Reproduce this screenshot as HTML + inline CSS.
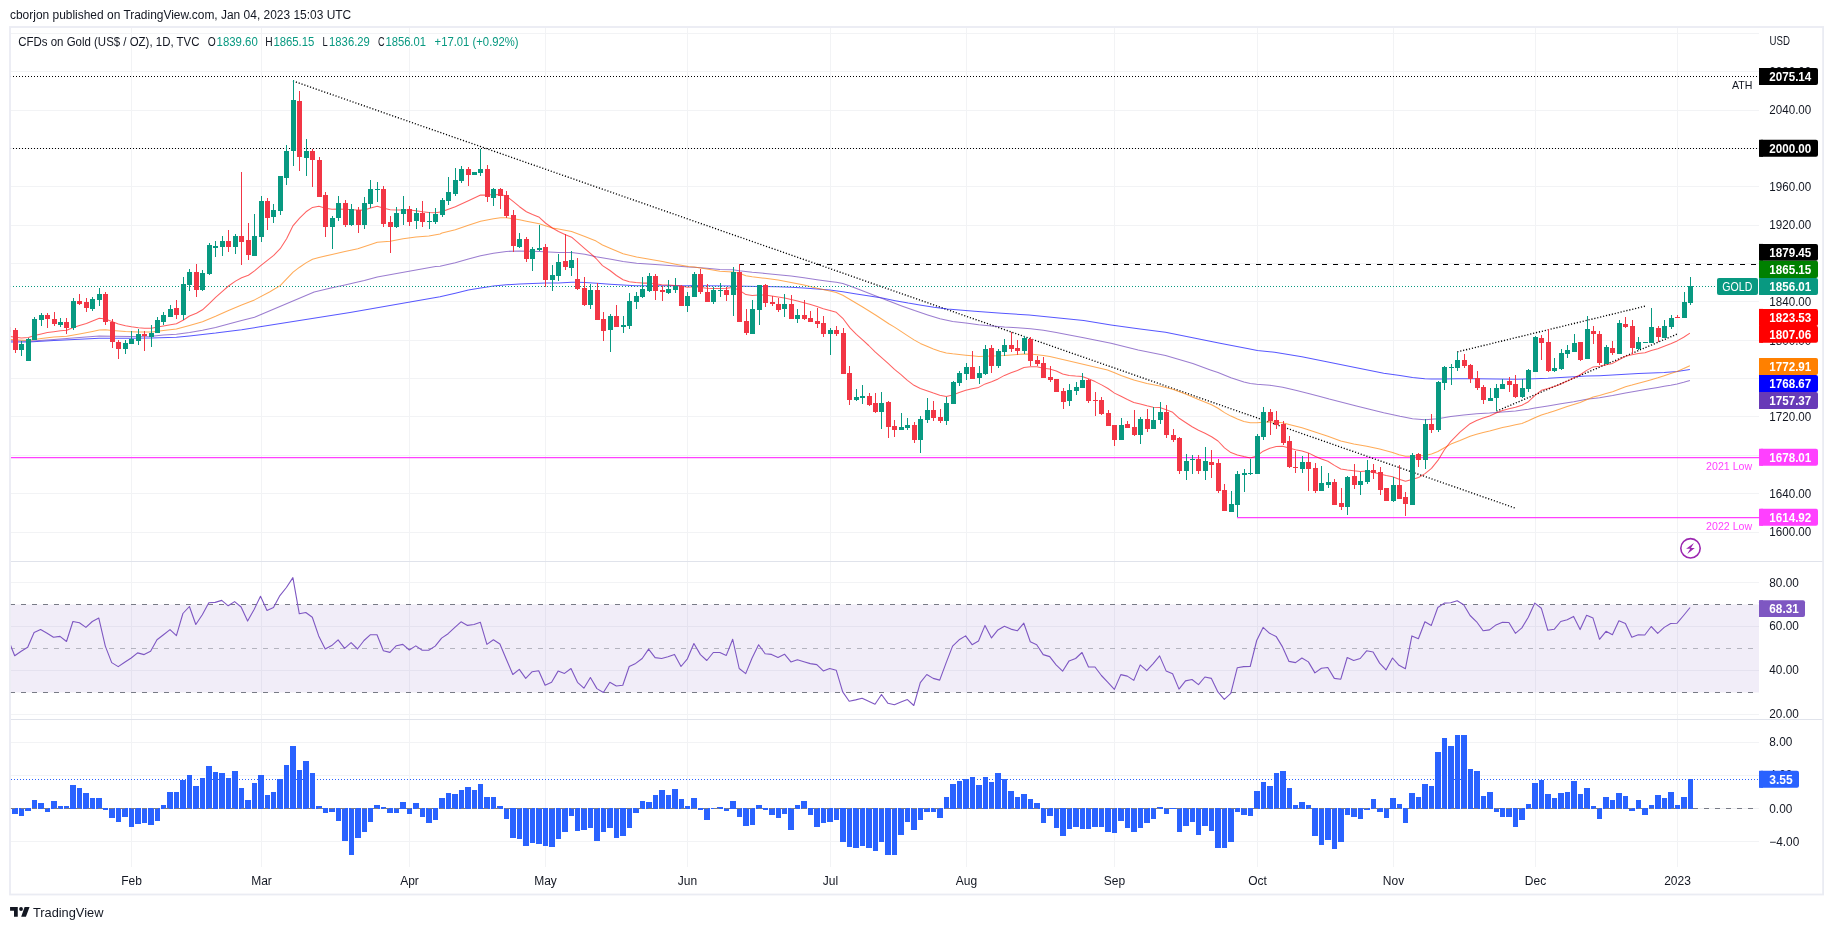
<!DOCTYPE html><html><head><meta charset="utf-8"><title>chart</title><style>html,body{margin:0;padding:0;background:#fff;}body{width:1833px;height:930px;overflow:hidden;position:relative;font-family:"Liberation Sans", sans-serif;}svg{position:absolute;left:0;top:0;display:block;will-change:transform}text{font-family:"Liberation Sans", sans-serif;}</style></head><body>
<svg width="1833" height="930" viewBox="0 0 1833 930">
<rect x="0" y="0" width="1833" height="930" fill="#ffffff"/>
<g shape-rendering="crispEdges">
<rect x="131" y="28" width="1" height="839" fill="#f2f3f5"/>
<rect x="261" y="28" width="1" height="839" fill="#f2f3f5"/>
<rect x="409" y="28" width="1" height="839" fill="#f2f3f5"/>
<rect x="545" y="28" width="1" height="839" fill="#f2f3f5"/>
<rect x="687" y="28" width="1" height="839" fill="#f2f3f5"/>
<rect x="830" y="28" width="1" height="839" fill="#f2f3f5"/>
<rect x="966" y="28" width="1" height="839" fill="#f2f3f5"/>
<rect x="1114" y="28" width="1" height="839" fill="#f2f3f5"/>
<rect x="1257" y="28" width="1" height="839" fill="#f2f3f5"/>
<rect x="1393" y="28" width="1" height="839" fill="#f2f3f5"/>
<rect x="1535" y="28" width="1" height="839" fill="#f2f3f5"/>
<rect x="1677" y="28" width="1" height="839" fill="#f2f3f5"/>
<rect x="11" y="532" width="1748" height="1" fill="#f2f3f5"/>
<rect x="11" y="493" width="1748" height="1" fill="#f2f3f5"/>
<rect x="11" y="455" width="1748" height="1" fill="#f2f3f5"/>
<rect x="11" y="416" width="1748" height="1" fill="#f2f3f5"/>
<rect x="11" y="378" width="1748" height="1" fill="#f2f3f5"/>
<rect x="11" y="340" width="1748" height="1" fill="#f2f3f5"/>
<rect x="11" y="301" width="1748" height="1" fill="#f2f3f5"/>
<rect x="11" y="263" width="1748" height="1" fill="#f2f3f5"/>
<rect x="11" y="225" width="1748" height="1" fill="#f2f3f5"/>
<rect x="11" y="186" width="1748" height="1" fill="#f2f3f5"/>
<rect x="11" y="148" width="1748" height="1" fill="#f2f3f5"/>
<rect x="11" y="110" width="1748" height="1" fill="#f2f3f5"/>
<rect x="11" y="71" width="1748" height="1" fill="#f2f3f5"/>
<rect x="11" y="33" width="1748" height="1" fill="#f2f3f5"/>
<rect x="11" y="582" width="1748" height="1" fill="#f2f3f5"/>
<rect x="11" y="626" width="1748" height="1" fill="#f2f3f5"/>
<rect x="11" y="670" width="1748" height="1" fill="#f2f3f5"/>
<rect x="11" y="714" width="1748" height="1" fill="#f2f3f5"/>
<rect x="11" y="742" width="1748" height="1" fill="#f2f3f5"/>
<rect x="11" y="775" width="1748" height="1" fill="#f2f3f5"/>
<rect x="11" y="808" width="1748" height="1" fill="#f2f3f5"/>
<rect x="11" y="841" width="1748" height="1" fill="#f2f3f5"/>
</g>
<rect x="11" y="604.5" width="1748" height="88" fill="#7e57c2" fill-opacity="0.11"/>
<g fill="none" stroke-width="1">
<line x1="10" x2="1759" y1="604.5" y2="604.5" stroke="#787b86" stroke-dasharray="5,6"/>
<line x1="10" x2="1759" y1="692.5" y2="692.5" stroke="#787b86" stroke-dasharray="5,6"/>
<line x1="10" x2="1759" y1="648.5" y2="648.5" stroke="#787b86" stroke-opacity="0.5" stroke-dasharray="5,6"/>
</g>
<polyline fill="none" stroke="#7e57c2" stroke-width="1.1" stroke-linejoin="round" points="10.5,645.2 14.7,655.8 21.2,651.2 27.7,647.3 34.1,632.5 40.6,629.6 47.1,633.3 53.5,637.3 60.0,636.4 66.5,641.5 72.9,621.5 79.4,622.8 85.9,627.4 92.3,621.5 98.8,618.1 105.3,646.1 111.7,662.6 118.2,666.6 124.7,662.2 131.2,658.0 137.6,652.9 144.1,654.6 150.6,651.2 157.0,639.8 163.5,634.7 170.0,629.6 176.4,635.6 182.9,613.5 189.4,606.5 195.8,624.5 202.3,614.7 208.8,602.8 215.2,602.4 221.7,600.4 228.2,605.8 234.6,601.6 241.1,607.0 247.6,621.1 254.1,609.6 260.5,596.3 267.0,610.4 273.5,607.5 279.9,595.6 286.4,587.5 292.9,577.6 299.3,613.8 305.8,612.5 312.3,617.2 318.7,635.9 325.2,649.0 331.7,645.6 338.1,639.8 344.6,648.3 351.1,642.7 357.5,649.0 364.0,640.5 370.5,634.7 377.0,634.7 383.4,650.8 389.9,652.4 396.4,645.7 402.8,644.4 409.3,650.0 415.8,645.9 422.2,650.3 428.7,650.3 435.2,646.1 441.6,638.1 448.1,633.7 454.6,627.7 461.0,621.8 467.5,625.4 474.0,624.5 480.4,622.3 486.9,644.4 493.4,639.8 499.9,644.0 506.3,659.2 512.8,674.5 519.3,669.4 525.7,678.4 532.2,671.7 538.7,670.7 545.1,685.2 551.6,682.3 558.1,671.1 564.5,673.4 571.0,668.5 577.5,682.3 583.9,688.2 590.4,677.5 596.9,688.6 603.4,692.5 609.8,682.3 616.3,686.0 622.8,685.2 629.2,666.5 635.7,663.4 642.2,658.5 648.6,649.1 655.1,657.6 661.6,658.5 668.0,656.8 674.5,654.4 681.0,666.5 687.4,658.8 693.9,643.5 700.4,654.6 706.8,660.5 713.3,652.5 719.8,652.5 726.3,655.4 732.7,639.3 739.2,668.5 745.7,673.6 752.1,658.0 758.6,644.7 765.1,653.7 771.5,654.4 778.0,657.5 784.5,654.2 790.9,661.9 797.4,659.7 803.9,661.7 810.3,663.6 816.8,664.6 823.3,670.9 829.7,668.5 836.2,670.2 842.7,691.9 849.2,701.3 855.6,699.9 862.1,698.2 868.6,701.3 875.0,704.2 881.5,694.5 888.0,703.3 894.4,704.7 900.9,702.1 907.4,699.6 913.8,705.5 920.3,682.6 926.8,674.5 933.2,678.4 939.7,680.1 946.2,662.6 952.6,646.1 959.1,639.8 965.6,635.9 972.1,644.7 978.5,641.0 985.0,625.4 991.5,637.9 997.9,629.9 1004.4,626.2 1010.9,629.1 1017.3,630.8 1023.8,623.2 1030.3,641.8 1036.7,644.7 1043.2,654.6 1049.7,656.6 1056.1,664.8 1062.6,671.2 1069.1,660.9 1075.6,658.5 1082.0,652.5 1088.5,667.0 1095.0,667.0 1101.4,675.5 1107.9,682.3 1114.4,689.4 1120.8,674.6 1127.3,676.1 1133.8,680.4 1140.2,664.9 1146.7,670.7 1153.2,663.6 1159.6,655.9 1166.1,670.9 1172.6,673.8 1179.0,689.1 1185.5,680.9 1192.0,679.5 1198.5,684.6 1204.9,677.0 1211.4,678.4 1217.9,691.9 1224.3,699.3 1230.8,693.3 1237.3,667.7 1243.7,666.6 1250.2,666.5 1256.7,640.5 1263.1,627.4 1269.6,633.3 1276.1,636.4 1282.5,646.9 1289.0,661.4 1295.5,662.6 1301.9,658.0 1308.4,661.9 1314.9,672.9 1321.4,668.3 1327.8,667.5 1334.3,678.4 1340.8,679.2 1347.2,657.5 1353.7,660.5 1360.2,658.5 1366.6,650.8 1373.1,652.0 1379.6,663.1 1386.0,669.9 1392.5,658.0 1399.0,665.3 1405.4,668.7 1411.9,635.9 1418.4,638.8 1424.9,621.8 1431.3,625.4 1437.8,607.5 1444.3,603.1 1450.7,602.8 1457.2,600.7 1463.7,604.8 1470.1,615.5 1476.6,621.8 1483.1,630.8 1489.5,629.9 1496.0,624.9 1502.5,622.3 1508.9,622.5 1515.4,633.3 1521.9,627.9 1528.3,617.2 1534.8,603.1 1541.3,608.2 1547.8,630.3 1554.2,629.3 1560.7,621.5 1567.2,619.8 1573.6,616.4 1580.1,629.6 1586.6,615.2 1593.0,618.1 1599.5,639.3 1606.0,631.3 1612.4,634.7 1618.9,620.8 1625.4,623.5 1631.8,637.3 1638.3,634.7 1644.8,635.0 1651.2,626.5 1657.7,633.3 1664.2,627.4 1670.7,623.5 1677.1,623.2 1683.6,615.5 1690.1,607.5"/>
<g fill="none">
<line x1="10" x2="1759" y1="76.5" y2="76.5" stroke="#000" stroke-width="1" stroke-dasharray="1,2"/>
<line x1="10" x2="1759" y1="148.5" y2="148.5" stroke="#000" stroke-width="1" stroke-dasharray="1,2"/>
<line x1="11" x2="1759" y1="457.5" y2="457.5" stroke="#ff40ff" stroke-width="1.25"/>
<line x1="1237" x2="1759" y1="517.5" y2="517.5" stroke="#ff40ff" stroke-width="1.25"/>
<line x1="739" x2="1759" y1="264.5" y2="264.5" stroke="#000" stroke-width="1.15" stroke-dasharray="5,6"/>
<line x1="293" y1="81" x2="1515" y2="508" stroke="#000" stroke-width="1.35" stroke-dasharray="1.15,1.85"/>
<line x1="1457.3" y1="351.9" x2="1645" y2="306.2" stroke="#000" stroke-width="1.35" stroke-dasharray="1.15,1.85"/>
<line x1="1496.5" y1="411.2" x2="1677" y2="334.1" stroke="#000" stroke-width="1.35" stroke-dasharray="1.15,1.85"/>
</g>
<polyline fill="none" stroke="#0000ff" stroke-opacity="0.66" stroke-width="1.05" stroke-linejoin="round" points="10.2,341.9 28.4,341.9 53.9,340.5 79.5,339.3 99.3,338.2 131.4,338.2 151.6,337.9 176.4,337.3 189.5,335.9 215.6,333.1 241.6,329.7 260.0,326.8 350.0,312.5 440.0,296.8 455.3,293.2 468.4,290.1 480.6,288.0 493.5,286.1 506.4,284.8 519.5,284.0 532.5,283.4 545.4,283.1 558.5,282.9 571.6,282.3 577.7,282.3 584.8,282.6 597.0,283.3 610.0,284.3 623.1,285.1 635.9,285.7 648.8,285.8 661.7,285.8 674.6,285.8 687.7,285.8 694.1,285.6 707.0,285.8 732.8,286.1 758.8,286.5 778.1,286.8 791.1,287.2 804.0,287.9 817.0,288.9 829.9,290.0 842.8,291.7 856.4,293.9 869.5,296.0 882.2,298.1 895.2,300.7 908.2,303.1 921.3,305.2 934.0,307.3 947.3,309.1 974.6,311.3 1001.8,313.2 1029.1,315.1 1056.4,317.8 1083.7,320.6 1111.0,324.9 1138.2,328.7 1165.5,332.3 1192.8,337.7 1220.0,343.2 1247.3,348.6 1257.4,350.6 1274.6,352.2 1301.9,356.8 1329.2,362.3 1356.4,367.7 1383.7,373.2 1400.0,375.4 1412.5,377.5 1424.8,378.7 1431.4,379.0 1444.3,379.0 1457.2,378.7 1476.6,378.7 1496.1,379.0 1515.5,379.2 1528.4,379.0 1534.8,378.7 1547.9,378.3 1560.8,377.5 1573.7,376.8 1586.6,376.1 1599.5,375.7 1612.6,375.1 1625.5,374.3 1638.4,373.6 1651.3,372.9 1664.2,372.4 1677.1,371.4 1689.9,369.6"/>
<polyline fill="none" stroke="#673ab7" stroke-opacity="0.66" stroke-width="1.05" stroke-linejoin="round" points="10.2,340.7 28.4,341.3 53.9,339.6 79.5,337.6 99.3,335.9 112.4,336.2 131.4,336.5 151.6,336.2 163.5,335.1 176.4,334.2 189.5,332.5 202.5,330.2 215.6,327.4 228.5,324.0 241.6,320.6 254.5,317.2 314.2,292.0 332.0,287.7 344.9,284.9 364.3,280.6 377.3,277.1 396.6,273.5 416.0,270.1 435.5,266.4 440.0,266.3 455.3,262.8 468.4,258.9 480.6,255.7 493.5,253.3 506.4,251.4 519.5,251.1 539.3,251.4 558.5,252.4 571.6,252.5 584.8,254.2 596.1,256.7 612.4,259.5 623.1,261.5 636.6,263.2 662.5,264.9 688.4,267.0 694.1,267.2 707.0,268.3 719.9,269.5 732.8,269.7 739.3,270.7 752.2,272.3 765.2,273.4 778.1,274.7 791.1,276.1 804.0,277.8 817.0,279.7 829.9,281.4 836.3,282.2 842.8,283.6 850.0,286.1 863.1,291.0 875.9,296.0 888.8,301.0 901.7,305.9 914.6,310.6 927.7,314.9 940.0,318.7 952.7,321.4 965.8,323.1 978.7,324.7 991.6,326.0 1004.5,327.1 1017.4,327.8 1030.5,328.8 1043.4,330.2 1056.3,332.5 1069.2,334.9 1083.7,337.7 1111.0,343.2 1138.2,350.0 1165.5,355.5 1192.8,363.6 1210.4,370.0 1218.0,372.6 1230.9,377.8 1243.9,382.1 1250.3,383.5 1256.8,384.2 1269.8,385.3 1282.7,387.3 1295.6,390.3 1308.5,393.4 1320.0,396.5 1329.2,399.1 1356.4,405.9 1383.7,412.7 1400.0,416.3 1412.5,418.7 1424.8,419.7 1437.8,418.7 1450.8,416.6 1463.7,414.9 1476.6,413.7 1489.6,413.0 1502.5,412.0 1515.5,410.9 1528.4,409.2 1534.8,408.1 1547.9,405.9 1560.8,403.8 1573.7,401.7 1586.6,399.3 1599.5,397.7 1612.6,395.6 1625.5,392.9 1638.4,390.7 1651.3,388.5 1657.8,387.4 1664.2,386.3 1670.7,385.2 1677.1,383.9 1683.7,382.3 1689.9,380.6"/>
<polyline fill="none" stroke="#ff8000" stroke-opacity="0.66" stroke-width="1.05" stroke-linejoin="round" points="10.2,339.6 28.4,340.5 41.2,338.5 53.9,337.1 66.7,336.2 79.5,333.9 92.5,331.4 99.3,330.0 105.4,329.7 112.4,330.5 125.5,331.4 138.4,331.9 151.6,331.9 163.5,330.5 176.4,329.1 189.5,325.4 202.5,321.7 215.6,316.3 228.5,310.4 241.6,305.0 254.5,299.9 269.5,292.0 280.2,285.6 293.1,272.1 299.6,267.2 306.0,262.9 312.5,259.3 318.9,257.4 332.0,254.4 344.9,251.5 357.8,248.7 370.7,244.4 377.3,242.3 390.2,241.2 403.1,238.8 416.0,237.1 428.9,235.9 440.0,234.0 442.0,233.1 455.3,229.7 468.4,225.2 480.6,221.2 493.5,218.8 500.5,217.8 506.4,217.8 513.4,218.8 519.5,219.8 526.4,221.2 539.3,223.7 545.4,225.7 552.4,228.0 558.5,229.1 571.6,231.5 584.8,236.5 596.1,241.1 602.5,245.0 612.4,249.3 623.1,253.8 636.6,257.1 649.6,259.2 662.5,261.6 675.5,264.2 688.4,266.6 694.1,266.9 707.0,269.0 719.9,271.2 732.8,271.9 739.3,273.3 745.9,275.7 752.2,276.8 765.2,278.3 778.1,280.0 791.1,282.5 804.0,285.1 817.0,288.2 829.9,291.0 836.3,292.4 842.8,295.3 850.0,299.5 863.1,307.3 875.9,315.2 888.8,323.7 894.5,327.1 901.0,331.4 907.4,335.6 914.0,339.9 920.3,343.4 926.9,346.3 933.4,349.1 939.8,351.2 946.3,352.9 952.7,353.8 959.2,354.5 965.8,355.2 972.1,355.8 978.7,356.5 985.2,356.2 991.6,355.9 998.1,355.8 1004.5,355.5 1011.0,354.9 1017.4,354.5 1023.9,354.1 1030.5,354.1 1036.9,354.8 1043.4,355.5 1049.8,356.6 1056.3,358.0 1062.7,359.5 1069.2,360.9 1107.5,370.0 1114.5,372.8 1121.0,375.4 1133.8,379.9 1146.9,383.5 1159.8,385.9 1172.7,389.2 1185.6,394.1 1198.5,399.5 1211.6,404.8 1218.0,408.3 1224.5,412.6 1230.9,416.1 1237.4,419.0 1243.9,421.4 1250.3,422.8 1256.8,422.8 1263.2,422.2 1269.8,421.8 1276.2,422.2 1282.6,422.8 1289.1,424.5 1302.0,427.8 1315.0,432.1 1327.9,436.3 1340.8,441.0 1353.8,444.1 1366.8,446.3 1379.7,449.1 1392.6,452.6 1399.1,454.8 1405.5,456.2 1412.0,456.2 1418.6,455.8 1425.0,455.5 1431.5,454.1 1437.9,451.5 1444.4,447.7 1450.9,444.1 1460.0,440.6 1470.1,436.2 1476.6,434.3 1483.2,432.5 1489.6,431.1 1496.1,429.3 1502.5,427.6 1509.0,426.2 1515.5,424.8 1521.9,423.4 1528.4,420.8 1534.8,417.7 1541.4,414.9 1547.9,413.0 1554.3,410.9 1560.8,408.8 1567.2,406.6 1573.7,404.5 1580.2,402.4 1586.6,399.8 1593.2,397.0 1599.5,395.6 1606.1,393.6 1612.6,391.7 1619.0,389.3 1625.5,386.8 1631.9,385.1 1638.4,383.2 1645.0,381.4 1651.3,379.7 1657.8,377.8 1664.2,375.7 1670.7,373.5 1677.1,371.4 1683.7,368.6 1689.9,365.7"/>
<polyline fill="none" stroke="#ff0000" stroke-opacity="0.62" stroke-width="1.05" stroke-linejoin="round" points="10.2,336.5 21.3,337.9 28.4,337.6 34.5,335.6 41.2,333.9 47.4,332.5 53.9,331.7 60.5,330.8 66.7,330.2 73.4,327.5 79.5,325.4 86.4,323.4 92.5,320.9 99.3,318.3 105.4,318.9 112.4,321.7 118.4,324.0 125.5,325.7 131.4,326.8 138.4,327.7 144.5,328.3 151.6,328.3 157.4,327.1 163.5,326.0 170.5,324.8 176.4,323.7 183.5,320.0 189.5,316.0 196.4,313.2 202.5,309.8 209.5,303.4 215.6,297.3 222.4,291.4 228.5,286.0 235.5,281.1 241.6,277.7 248.4,275.2 254.5,270.9 260.7,265.7 273.7,255.4 280.2,248.7 286.6,238.8 293.1,225.6 299.6,218.2 306.0,211.8 312.5,207.4 318.9,206.3 325.5,208.3 332.0,209.2 338.4,209.0 344.9,209.2 351.3,209.7 357.8,210.1 364.3,210.1 370.7,208.0 377.3,206.3 383.8,208.3 390.2,209.7 396.6,210.0 403.1,210.0 409.6,210.0 416.0,210.8 422.5,211.8 428.9,212.5 435.5,212.8 442.0,211.8 445.0,210.5 455.3,206.7 468.4,200.7 480.6,195.1 487.4,195.1 493.5,194.6 500.5,194.6 506.4,196.1 513.4,201.7 519.5,206.7 526.4,211.7 532.5,214.5 539.3,217.3 545.4,223.0 552.4,228.0 558.5,231.5 565.5,234.8 571.6,237.2 577.4,242.2 584.8,248.6 591.3,254.2 596.1,258.5 602.5,265.6 610.0,270.5 616.4,275.5 623.1,279.7 629.3,281.7 635.9,282.6 642.2,283.1 648.8,283.1 655.2,283.7 661.7,284.7 668.2,285.1 674.6,285.4 681.1,286.1 687.5,287.2 694.1,286.8 700.6,287.5 707.0,288.2 713.5,288.5 719.9,288.5 726.4,288.2 732.8,287.5 739.3,290.3 745.9,294.6 752.2,295.6 758.8,295.0 765.2,295.0 771.7,296.0 778.1,297.1 784.6,298.1 791.1,299.5 797.5,301.0 804.0,302.7 810.6,304.5 817.0,306.4 823.3,308.8 829.9,310.6 836.3,312.3 842.8,318.3 850.0,327.9 856.4,334.3 862.6,339.9 868.7,345.5 875.1,351.9 881.6,357.6 888.1,363.3 894.5,369.4 901.0,374.6 907.4,380.3 914.0,385.3 920.3,388.5 926.9,390.7 933.4,393.1 939.8,395.2 946.3,396.4 952.7,394.9 959.2,392.4 965.8,390.3 972.1,388.8 978.7,387.4 985.2,383.9 991.6,381.7 998.1,378.9 1004.5,375.4 1011.0,372.8 1017.4,370.4 1023.9,367.5 1030.5,366.8 1036.9,366.8 1043.4,368.3 1049.8,369.0 1056.3,371.1 1062.7,373.9 1069.2,375.5 1075.6,376.1 1082.1,376.4 1088.5,378.8 1095.1,381.6 1101.6,384.9 1108.0,388.5 1114.5,393.1 1121.0,396.3 1127.4,399.5 1133.8,402.4 1140.3,404.1 1146.9,405.8 1153.2,407.2 1159.8,407.6 1166.2,409.7 1172.7,412.3 1179.2,418.3 1185.6,422.5 1192.1,426.8 1198.5,430.3 1205.0,433.2 1211.6,436.7 1218.0,441.0 1224.5,447.8 1230.9,452.6 1237.4,454.9 1243.9,456.6 1250.3,458.0 1256.8,455.9 1263.2,451.2 1269.8,448.3 1276.2,446.6 1282.6,446.3 1289.1,448.1 1295.5,449.8 1302.0,450.9 1308.4,452.9 1315.0,456.2 1321.5,459.0 1327.9,461.2 1334.4,465.4 1340.8,469.0 1347.3,470.0 1353.8,470.8 1360.2,471.4 1366.8,471.1 1373.1,472.2 1379.7,473.9 1386.2,475.6 1392.6,476.8 1399.1,479.3 1405.5,481.3 1412.0,479.6 1418.6,477.5 1425.0,473.6 1431.5,468.3 1437.9,460.4 1444.4,449.8 1450.9,441.3 1460.0,432.1 1470.1,423.7 1476.6,420.5 1483.2,418.0 1489.6,415.9 1496.1,413.0 1502.5,410.6 1509.0,408.8 1515.5,407.3 1521.9,405.2 1528.4,401.7 1534.8,395.6 1541.4,390.3 1547.9,388.5 1554.3,386.5 1560.8,383.9 1567.2,381.1 1573.7,378.0 1580.2,374.7 1586.6,370.4 1593.2,366.9 1599.5,366.2 1606.1,364.8 1612.6,363.4 1619.0,359.8 1625.5,356.3 1631.9,354.8 1638.4,353.4 1645.0,352.7 1651.3,350.6 1657.8,348.7 1664.2,346.3 1670.7,343.7 1677.1,340.9 1683.7,337.3 1689.9,333.1"/>
<line x1="10" x2="1716" y1="286.5" y2="286.5" stroke="#089981" stroke-width="1" stroke-dasharray="1,2"/>
<g shape-rendering="crispEdges">
<rect x="10" y="327" width="1" height="5" fill="#f23645"/>
<rect x="15" y="328" width="1" height="25" fill="#f23645"/>
<rect x="13" y="330" width="5" height="20" fill="#f23645"/>
<rect x="21" y="341" width="1" height="15" fill="#089981"/>
<rect x="19" y="344" width="5" height="6" fill="#089981"/>
<rect x="28" y="338" width="1" height="23" fill="#089981"/>
<rect x="26" y="339" width="5" height="22" fill="#089981"/>
<rect x="34" y="317" width="1" height="23" fill="#089981"/>
<rect x="32" y="319" width="5" height="21" fill="#089981"/>
<rect x="41" y="313" width="1" height="13" fill="#089981"/>
<rect x="39" y="315" width="5" height="5" fill="#089981"/>
<rect x="47" y="313" width="1" height="15" fill="#f23645"/>
<rect x="45" y="315" width="5" height="4" fill="#f23645"/>
<rect x="54" y="312" width="1" height="14" fill="#f23645"/>
<rect x="52" y="319" width="5" height="5" fill="#f23645"/>
<rect x="60" y="318" width="1" height="9" fill="#089981"/>
<rect x="58" y="322" width="5" height="3" fill="#089981"/>
<rect x="66" y="318" width="1" height="16" fill="#f23645"/>
<rect x="64" y="322" width="5" height="6" fill="#f23645"/>
<rect x="73" y="298" width="1" height="32" fill="#089981"/>
<rect x="71" y="301" width="5" height="27" fill="#089981"/>
<rect x="79" y="294" width="1" height="11" fill="#f23645"/>
<rect x="77" y="301" width="5" height="3" fill="#f23645"/>
<rect x="86" y="298" width="1" height="14" fill="#f23645"/>
<rect x="84" y="302" width="5" height="6" fill="#f23645"/>
<rect x="92" y="297" width="1" height="14" fill="#089981"/>
<rect x="90" y="299" width="5" height="10" fill="#089981"/>
<rect x="99" y="288" width="1" height="18" fill="#089981"/>
<rect x="97" y="294" width="5" height="6" fill="#089981"/>
<rect x="105" y="292" width="1" height="33" fill="#f23645"/>
<rect x="103" y="294" width="5" height="28" fill="#f23645"/>
<rect x="112" y="319" width="1" height="29" fill="#f23645"/>
<rect x="110" y="322" width="5" height="20" fill="#f23645"/>
<rect x="118" y="340" width="1" height="19" fill="#f23645"/>
<rect x="116" y="342" width="5" height="7" fill="#f23645"/>
<rect x="125" y="340" width="1" height="14" fill="#089981"/>
<rect x="123" y="343" width="5" height="6" fill="#089981"/>
<rect x="131" y="331" width="1" height="13" fill="#089981"/>
<rect x="129" y="339" width="5" height="5" fill="#089981"/>
<rect x="138" y="329" width="1" height="16" fill="#089981"/>
<rect x="136" y="334" width="5" height="7" fill="#089981"/>
<rect x="144" y="331" width="1" height="20" fill="#f23645"/>
<rect x="142" y="334" width="5" height="2" fill="#f23645"/>
<rect x="151" y="325" width="1" height="22" fill="#089981"/>
<rect x="149" y="333" width="5" height="4" fill="#089981"/>
<rect x="157" y="317" width="1" height="16" fill="#089981"/>
<rect x="155" y="320" width="5" height="13" fill="#089981"/>
<rect x="163" y="312" width="1" height="13" fill="#089981"/>
<rect x="161" y="315" width="5" height="7" fill="#089981"/>
<rect x="170" y="305" width="1" height="12" fill="#089981"/>
<rect x="168" y="309" width="5" height="8" fill="#089981"/>
<rect x="176" y="300" width="1" height="19" fill="#f23645"/>
<rect x="174" y="308" width="5" height="7" fill="#f23645"/>
<rect x="183" y="277" width="1" height="43" fill="#089981"/>
<rect x="181" y="284" width="5" height="31" fill="#089981"/>
<rect x="189" y="269" width="1" height="22" fill="#089981"/>
<rect x="187" y="272" width="5" height="13" fill="#089981"/>
<rect x="196" y="264" width="1" height="33" fill="#f23645"/>
<rect x="194" y="272" width="5" height="18" fill="#f23645"/>
<rect x="202" y="270" width="1" height="21" fill="#089981"/>
<rect x="200" y="273" width="5" height="17" fill="#089981"/>
<rect x="209" y="243" width="1" height="32" fill="#089981"/>
<rect x="207" y="245" width="5" height="29" fill="#089981"/>
<rect x="215" y="241" width="1" height="16" fill="#089981"/>
<rect x="213" y="246" width="5" height="2" fill="#089981"/>
<rect x="222" y="236" width="1" height="20" fill="#089981"/>
<rect x="220" y="241" width="5" height="6" fill="#089981"/>
<rect x="228" y="230" width="1" height="22" fill="#f23645"/>
<rect x="226" y="241" width="5" height="6" fill="#f23645"/>
<rect x="235" y="234" width="1" height="20" fill="#089981"/>
<rect x="233" y="236" width="5" height="11" fill="#089981"/>
<rect x="241" y="172" width="1" height="93" fill="#f23645"/>
<rect x="239" y="236" width="5" height="6" fill="#f23645"/>
<rect x="248" y="223" width="1" height="37" fill="#f23645"/>
<rect x="246" y="240" width="5" height="15" fill="#f23645"/>
<rect x="254" y="214" width="1" height="42" fill="#089981"/>
<rect x="252" y="236" width="5" height="20" fill="#089981"/>
<rect x="261" y="196" width="1" height="46" fill="#089981"/>
<rect x="259" y="201" width="5" height="36" fill="#089981"/>
<rect x="267" y="198" width="1" height="32" fill="#f23645"/>
<rect x="265" y="201" width="5" height="17" fill="#f23645"/>
<rect x="273" y="204" width="1" height="19" fill="#089981"/>
<rect x="271" y="210" width="5" height="7" fill="#089981"/>
<rect x="280" y="176" width="1" height="39" fill="#089981"/>
<rect x="278" y="176" width="5" height="35" fill="#089981"/>
<rect x="286" y="145" width="1" height="40" fill="#089981"/>
<rect x="284" y="151" width="5" height="27" fill="#089981"/>
<rect x="293" y="80" width="1" height="86" fill="#089981"/>
<rect x="291" y="100" width="5" height="51" fill="#089981"/>
<rect x="299" y="91" width="1" height="80" fill="#f23645"/>
<rect x="297" y="101" width="5" height="56" fill="#f23645"/>
<rect x="306" y="139" width="1" height="37" fill="#089981"/>
<rect x="304" y="151" width="5" height="7" fill="#089981"/>
<rect x="312" y="149" width="1" height="38" fill="#f23645"/>
<rect x="310" y="151" width="5" height="9" fill="#f23645"/>
<rect x="319" y="157" width="1" height="40" fill="#f23645"/>
<rect x="317" y="160" width="5" height="37" fill="#f23645"/>
<rect x="325" y="192" width="1" height="45" fill="#f23645"/>
<rect x="323" y="195" width="5" height="32" fill="#f23645"/>
<rect x="332" y="216" width="1" height="33" fill="#089981"/>
<rect x="330" y="218" width="5" height="9" fill="#089981"/>
<rect x="338" y="196" width="1" height="25" fill="#089981"/>
<rect x="336" y="203" width="5" height="15" fill="#089981"/>
<rect x="345" y="200" width="1" height="27" fill="#f23645"/>
<rect x="343" y="203" width="5" height="22" fill="#f23645"/>
<rect x="351" y="204" width="1" height="22" fill="#089981"/>
<rect x="349" y="209" width="5" height="16" fill="#089981"/>
<rect x="358" y="207" width="1" height="26" fill="#f23645"/>
<rect x="356" y="210" width="5" height="15" fill="#f23645"/>
<rect x="364" y="197" width="1" height="32" fill="#089981"/>
<rect x="362" y="203" width="5" height="22" fill="#089981"/>
<rect x="370" y="180" width="1" height="28" fill="#089981"/>
<rect x="368" y="189" width="5" height="15" fill="#089981"/>
<rect x="377" y="182" width="1" height="20" fill="#089981"/>
<rect x="375" y="189" width="5" height="1" fill="#089981"/>
<rect x="383" y="186" width="1" height="41" fill="#f23645"/>
<rect x="381" y="189" width="5" height="35" fill="#f23645"/>
<rect x="390" y="216" width="1" height="37" fill="#f23645"/>
<rect x="388" y="222" width="5" height="5" fill="#f23645"/>
<rect x="396" y="207" width="1" height="21" fill="#089981"/>
<rect x="394" y="213" width="5" height="14" fill="#089981"/>
<rect x="403" y="196" width="1" height="29" fill="#089981"/>
<rect x="401" y="209" width="5" height="5" fill="#089981"/>
<rect x="409" y="206" width="1" height="20" fill="#f23645"/>
<rect x="407" y="209" width="5" height="13" fill="#f23645"/>
<rect x="416" y="208" width="1" height="21" fill="#089981"/>
<rect x="414" y="213" width="5" height="8" fill="#089981"/>
<rect x="422" y="201" width="1" height="26" fill="#f23645"/>
<rect x="420" y="213" width="5" height="9" fill="#f23645"/>
<rect x="429" y="212" width="1" height="17" fill="#089981"/>
<rect x="427" y="221" width="5" height="1" fill="#089981"/>
<rect x="435" y="208" width="1" height="16" fill="#089981"/>
<rect x="433" y="214" width="5" height="8" fill="#089981"/>
<rect x="442" y="198" width="1" height="19" fill="#089981"/>
<rect x="440" y="200" width="5" height="15" fill="#089981"/>
<rect x="448" y="177" width="1" height="28" fill="#089981"/>
<rect x="446" y="192" width="5" height="9" fill="#089981"/>
<rect x="455" y="168" width="1" height="28" fill="#089981"/>
<rect x="453" y="180" width="5" height="14" fill="#089981"/>
<rect x="461" y="166" width="1" height="17" fill="#089981"/>
<rect x="459" y="169" width="5" height="12" fill="#089981"/>
<rect x="468" y="167" width="1" height="19" fill="#f23645"/>
<rect x="466" y="169" width="5" height="6" fill="#f23645"/>
<rect x="474" y="172" width="1" height="3" fill="#089981"/>
<rect x="472" y="172" width="5" height="3" fill="#089981"/>
<rect x="480" y="149" width="1" height="27" fill="#089981"/>
<rect x="478" y="169" width="5" height="4" fill="#089981"/>
<rect x="487" y="165" width="1" height="37" fill="#f23645"/>
<rect x="485" y="169" width="5" height="28" fill="#f23645"/>
<rect x="493" y="188" width="1" height="18" fill="#089981"/>
<rect x="491" y="189" width="5" height="9" fill="#089981"/>
<rect x="500" y="188" width="1" height="21" fill="#f23645"/>
<rect x="498" y="189" width="5" height="7" fill="#f23645"/>
<rect x="506" y="191" width="1" height="27" fill="#f23645"/>
<rect x="504" y="195" width="5" height="21" fill="#f23645"/>
<rect x="513" y="210" width="1" height="42" fill="#f23645"/>
<rect x="511" y="215" width="5" height="31" fill="#f23645"/>
<rect x="519" y="233" width="1" height="15" fill="#089981"/>
<rect x="517" y="239" width="5" height="8" fill="#089981"/>
<rect x="526" y="237" width="1" height="25" fill="#f23645"/>
<rect x="524" y="239" width="5" height="20" fill="#f23645"/>
<rect x="532" y="247" width="1" height="24" fill="#089981"/>
<rect x="530" y="249" width="5" height="10" fill="#089981"/>
<rect x="539" y="225" width="1" height="26" fill="#089981"/>
<rect x="537" y="248" width="5" height="2" fill="#089981"/>
<rect x="545" y="244" width="1" height="43" fill="#f23645"/>
<rect x="543" y="247" width="5" height="33" fill="#f23645"/>
<rect x="552" y="265" width="1" height="26" fill="#089981"/>
<rect x="550" y="275" width="5" height="5" fill="#089981"/>
<rect x="558" y="254" width="1" height="27" fill="#089981"/>
<rect x="556" y="262" width="5" height="14" fill="#089981"/>
<rect x="565" y="234" width="1" height="36" fill="#f23645"/>
<rect x="563" y="261" width="5" height="6" fill="#f23645"/>
<rect x="571" y="251" width="1" height="25" fill="#089981"/>
<rect x="569" y="260" width="5" height="8" fill="#089981"/>
<rect x="577" y="258" width="1" height="32" fill="#f23645"/>
<rect x="575" y="279" width="5" height="10" fill="#f23645"/>
<rect x="584" y="277" width="1" height="29" fill="#f23645"/>
<rect x="582" y="288" width="5" height="17" fill="#f23645"/>
<rect x="590" y="284" width="1" height="25" fill="#089981"/>
<rect x="588" y="290" width="5" height="15" fill="#089981"/>
<rect x="597" y="283" width="1" height="37" fill="#f23645"/>
<rect x="595" y="290" width="5" height="30" fill="#f23645"/>
<rect x="603" y="312" width="1" height="29" fill="#f23645"/>
<rect x="601" y="319" width="5" height="12" fill="#f23645"/>
<rect x="610" y="314" width="1" height="38" fill="#089981"/>
<rect x="608" y="316" width="5" height="14" fill="#089981"/>
<rect x="616" y="305" width="1" height="22" fill="#f23645"/>
<rect x="614" y="316" width="5" height="11" fill="#f23645"/>
<rect x="623" y="316" width="1" height="17" fill="#089981"/>
<rect x="621" y="325" width="5" height="2" fill="#089981"/>
<rect x="629" y="293" width="1" height="36" fill="#089981"/>
<rect x="627" y="301" width="5" height="25" fill="#089981"/>
<rect x="636" y="292" width="1" height="17" fill="#089981"/>
<rect x="634" y="296" width="5" height="6" fill="#089981"/>
<rect x="642" y="277" width="1" height="21" fill="#089981"/>
<rect x="640" y="289" width="5" height="8" fill="#089981"/>
<rect x="649" y="273" width="1" height="19" fill="#089981"/>
<rect x="647" y="276" width="5" height="15" fill="#089981"/>
<rect x="655" y="274" width="1" height="26" fill="#f23645"/>
<rect x="653" y="276" width="5" height="15" fill="#f23645"/>
<rect x="662" y="286" width="1" height="15" fill="#f23645"/>
<rect x="660" y="290" width="5" height="2" fill="#f23645"/>
<rect x="668" y="280" width="1" height="14" fill="#089981"/>
<rect x="666" y="289" width="5" height="4" fill="#089981"/>
<rect x="675" y="278" width="1" height="15" fill="#089981"/>
<rect x="673" y="286" width="5" height="4" fill="#089981"/>
<rect x="681" y="285" width="1" height="21" fill="#f23645"/>
<rect x="679" y="286" width="5" height="20" fill="#f23645"/>
<rect x="687" y="292" width="1" height="20" fill="#089981"/>
<rect x="685" y="296" width="5" height="10" fill="#089981"/>
<rect x="694" y="272" width="1" height="25" fill="#089981"/>
<rect x="692" y="274" width="5" height="23" fill="#089981"/>
<rect x="700" y="269" width="1" height="25" fill="#f23645"/>
<rect x="698" y="274" width="5" height="18" fill="#f23645"/>
<rect x="707" y="284" width="1" height="18" fill="#f23645"/>
<rect x="705" y="292" width="5" height="10" fill="#f23645"/>
<rect x="713" y="287" width="1" height="17" fill="#089981"/>
<rect x="711" y="290" width="5" height="12" fill="#089981"/>
<rect x="720" y="283" width="1" height="14" fill="#089981"/>
<rect x="718" y="290" width="5" height="1" fill="#089981"/>
<rect x="726" y="287" width="1" height="14" fill="#f23645"/>
<rect x="724" y="290" width="5" height="5" fill="#f23645"/>
<rect x="733" y="267" width="1" height="49" fill="#089981"/>
<rect x="731" y="272" width="5" height="23" fill="#089981"/>
<rect x="739" y="264" width="1" height="58" fill="#f23645"/>
<rect x="737" y="272" width="5" height="50" fill="#f23645"/>
<rect x="746" y="309" width="1" height="26" fill="#f23645"/>
<rect x="744" y="321" width="5" height="12" fill="#f23645"/>
<rect x="752" y="300" width="1" height="34" fill="#089981"/>
<rect x="750" y="309" width="5" height="25" fill="#089981"/>
<rect x="759" y="285" width="1" height="40" fill="#089981"/>
<rect x="757" y="285" width="5" height="25" fill="#089981"/>
<rect x="765" y="284" width="1" height="23" fill="#f23645"/>
<rect x="763" y="285" width="5" height="18" fill="#f23645"/>
<rect x="772" y="296" width="1" height="10" fill="#f23645"/>
<rect x="770" y="302" width="5" height="2" fill="#f23645"/>
<rect x="778" y="298" width="1" height="14" fill="#f23645"/>
<rect x="776" y="304" width="5" height="6" fill="#f23645"/>
<rect x="784" y="294" width="1" height="23" fill="#089981"/>
<rect x="782" y="304" width="5" height="5" fill="#089981"/>
<rect x="791" y="295" width="1" height="24" fill="#f23645"/>
<rect x="789" y="304" width="5" height="15" fill="#f23645"/>
<rect x="797" y="309" width="1" height="14" fill="#089981"/>
<rect x="795" y="315" width="5" height="4" fill="#089981"/>
<rect x="804" y="300" width="1" height="20" fill="#f23645"/>
<rect x="802" y="315" width="5" height="4" fill="#f23645"/>
<rect x="810" y="311" width="1" height="11" fill="#f23645"/>
<rect x="808" y="318" width="5" height="4" fill="#f23645"/>
<rect x="817" y="308" width="1" height="20" fill="#f23645"/>
<rect x="815" y="321" width="5" height="3" fill="#f23645"/>
<rect x="823" y="316" width="1" height="21" fill="#f23645"/>
<rect x="821" y="323" width="5" height="11" fill="#f23645"/>
<rect x="830" y="328" width="1" height="27" fill="#089981"/>
<rect x="828" y="330" width="5" height="4" fill="#089981"/>
<rect x="836" y="326" width="1" height="10" fill="#f23645"/>
<rect x="834" y="330" width="5" height="4" fill="#f23645"/>
<rect x="843" y="328" width="1" height="46" fill="#f23645"/>
<rect x="841" y="333" width="5" height="41" fill="#f23645"/>
<rect x="849" y="366" width="1" height="39" fill="#f23645"/>
<rect x="847" y="373" width="5" height="27" fill="#f23645"/>
<rect x="856" y="389" width="1" height="12" fill="#089981"/>
<rect x="854" y="397" width="5" height="3" fill="#089981"/>
<rect x="862" y="385" width="1" height="19" fill="#089981"/>
<rect x="860" y="396" width="5" height="2" fill="#089981"/>
<rect x="869" y="393" width="1" height="13" fill="#f23645"/>
<rect x="867" y="396" width="5" height="9" fill="#f23645"/>
<rect x="875" y="393" width="1" height="20" fill="#f23645"/>
<rect x="873" y="403" width="5" height="9" fill="#f23645"/>
<rect x="881" y="392" width="1" height="37" fill="#089981"/>
<rect x="879" y="403" width="5" height="9" fill="#089981"/>
<rect x="888" y="401" width="1" height="37" fill="#f23645"/>
<rect x="886" y="402" width="5" height="25" fill="#f23645"/>
<rect x="894" y="420" width="1" height="17" fill="#f23645"/>
<rect x="892" y="426" width="5" height="4" fill="#f23645"/>
<rect x="901" y="413" width="1" height="17" fill="#089981"/>
<rect x="899" y="427" width="5" height="3" fill="#089981"/>
<rect x="907" y="418" width="1" height="12" fill="#089981"/>
<rect x="905" y="425" width="5" height="3" fill="#089981"/>
<rect x="914" y="422" width="1" height="21" fill="#f23645"/>
<rect x="912" y="425" width="5" height="15" fill="#f23645"/>
<rect x="920" y="416" width="1" height="37" fill="#089981"/>
<rect x="918" y="419" width="5" height="21" fill="#089981"/>
<rect x="927" y="398" width="1" height="25" fill="#089981"/>
<rect x="925" y="410" width="5" height="10" fill="#089981"/>
<rect x="933" y="401" width="1" height="20" fill="#f23645"/>
<rect x="931" y="410" width="5" height="8" fill="#f23645"/>
<rect x="940" y="409" width="1" height="14" fill="#f23645"/>
<rect x="938" y="417" width="5" height="4" fill="#f23645"/>
<rect x="946" y="397" width="1" height="28" fill="#089981"/>
<rect x="944" y="403" width="5" height="18" fill="#089981"/>
<rect x="953" y="381" width="1" height="23" fill="#089981"/>
<rect x="951" y="382" width="5" height="22" fill="#089981"/>
<rect x="959" y="371" width="1" height="15" fill="#089981"/>
<rect x="957" y="373" width="5" height="10" fill="#089981"/>
<rect x="966" y="363" width="1" height="17" fill="#089981"/>
<rect x="964" y="367" width="5" height="7" fill="#089981"/>
<rect x="972" y="351" width="1" height="28" fill="#f23645"/>
<rect x="970" y="367" width="5" height="12" fill="#f23645"/>
<rect x="979" y="366" width="1" height="18" fill="#089981"/>
<rect x="977" y="373" width="5" height="5" fill="#089981"/>
<rect x="985" y="345" width="1" height="30" fill="#089981"/>
<rect x="983" y="349" width="5" height="25" fill="#089981"/>
<rect x="991" y="345" width="1" height="28" fill="#f23645"/>
<rect x="989" y="348" width="5" height="18" fill="#f23645"/>
<rect x="998" y="349" width="1" height="19" fill="#089981"/>
<rect x="996" y="351" width="5" height="15" fill="#089981"/>
<rect x="1004" y="339" width="1" height="17" fill="#089981"/>
<rect x="1002" y="345" width="5" height="7" fill="#089981"/>
<rect x="1011" y="332" width="1" height="20" fill="#f23645"/>
<rect x="1009" y="345" width="5" height="4" fill="#f23645"/>
<rect x="1017" y="340" width="1" height="15" fill="#f23645"/>
<rect x="1015" y="348" width="5" height="3" fill="#f23645"/>
<rect x="1024" y="336" width="1" height="18" fill="#089981"/>
<rect x="1022" y="338" width="5" height="13" fill="#089981"/>
<rect x="1030" y="337" width="1" height="29" fill="#f23645"/>
<rect x="1028" y="339" width="5" height="22" fill="#f23645"/>
<rect x="1037" y="356" width="1" height="10" fill="#f23645"/>
<rect x="1035" y="360" width="5" height="4" fill="#f23645"/>
<rect x="1043" y="357" width="1" height="21" fill="#f23645"/>
<rect x="1041" y="363" width="5" height="15" fill="#f23645"/>
<rect x="1050" y="366" width="1" height="16" fill="#f23645"/>
<rect x="1048" y="377" width="5" height="3" fill="#f23645"/>
<rect x="1056" y="379" width="1" height="13" fill="#f23645"/>
<rect x="1054" y="379" width="5" height="13" fill="#f23645"/>
<rect x="1063" y="388" width="1" height="21" fill="#f23645"/>
<rect x="1061" y="391" width="5" height="11" fill="#f23645"/>
<rect x="1069" y="384" width="1" height="22" fill="#089981"/>
<rect x="1067" y="390" width="5" height="11" fill="#089981"/>
<rect x="1076" y="382" width="1" height="13" fill="#089981"/>
<rect x="1074" y="387" width="5" height="4" fill="#089981"/>
<rect x="1082" y="373" width="1" height="15" fill="#089981"/>
<rect x="1080" y="380" width="5" height="8" fill="#089981"/>
<rect x="1088" y="379" width="1" height="24" fill="#f23645"/>
<rect x="1086" y="380" width="5" height="21" fill="#f23645"/>
<rect x="1095" y="392" width="1" height="24" fill="#f23645"/>
<rect x="1093" y="400" width="5" height="1" fill="#f23645"/>
<rect x="1101" y="397" width="1" height="18" fill="#f23645"/>
<rect x="1099" y="400" width="5" height="14" fill="#f23645"/>
<rect x="1108" y="410" width="1" height="16" fill="#f23645"/>
<rect x="1106" y="413" width="5" height="13" fill="#f23645"/>
<rect x="1114" y="425" width="1" height="21" fill="#f23645"/>
<rect x="1112" y="425" width="5" height="15" fill="#f23645"/>
<rect x="1121" y="418" width="1" height="22" fill="#089981"/>
<rect x="1119" y="425" width="5" height="15" fill="#089981"/>
<rect x="1127" y="421" width="1" height="7" fill="#f23645"/>
<rect x="1125" y="424" width="5" height="4" fill="#f23645"/>
<rect x="1134" y="410" width="1" height="26" fill="#f23645"/>
<rect x="1132" y="427" width="5" height="8" fill="#f23645"/>
<rect x="1140" y="417" width="1" height="27" fill="#089981"/>
<rect x="1138" y="419" width="5" height="16" fill="#089981"/>
<rect x="1147" y="409" width="1" height="23" fill="#f23645"/>
<rect x="1145" y="419" width="5" height="10" fill="#f23645"/>
<rect x="1153" y="407" width="1" height="22" fill="#089981"/>
<rect x="1151" y="420" width="5" height="9" fill="#089981"/>
<rect x="1160" y="402" width="1" height="22" fill="#089981"/>
<rect x="1158" y="412" width="5" height="8" fill="#089981"/>
<rect x="1166" y="405" width="1" height="33" fill="#f23645"/>
<rect x="1164" y="412" width="5" height="23" fill="#f23645"/>
<rect x="1173" y="429" width="1" height="13" fill="#f23645"/>
<rect x="1171" y="435" width="5" height="5" fill="#f23645"/>
<rect x="1179" y="437" width="1" height="37" fill="#f23645"/>
<rect x="1177" y="438" width="5" height="33" fill="#f23645"/>
<rect x="1186" y="454" width="1" height="26" fill="#089981"/>
<rect x="1184" y="461" width="5" height="10" fill="#089981"/>
<rect x="1192" y="455" width="1" height="19" fill="#089981"/>
<rect x="1190" y="459" width="5" height="1" fill="#089981"/>
<rect x="1198" y="455" width="1" height="19" fill="#f23645"/>
<rect x="1196" y="459" width="5" height="12" fill="#f23645"/>
<rect x="1205" y="447" width="1" height="33" fill="#089981"/>
<rect x="1203" y="461" width="5" height="10" fill="#089981"/>
<rect x="1211" y="450" width="1" height="28" fill="#f23645"/>
<rect x="1209" y="462" width="5" height="3" fill="#f23645"/>
<rect x="1218" y="459" width="1" height="34" fill="#f23645"/>
<rect x="1216" y="463" width="5" height="28" fill="#f23645"/>
<rect x="1224" y="484" width="1" height="27" fill="#f23645"/>
<rect x="1222" y="490" width="5" height="21" fill="#f23645"/>
<rect x="1231" y="491" width="1" height="21" fill="#089981"/>
<rect x="1229" y="504" width="5" height="8" fill="#089981"/>
<rect x="1237" y="471" width="1" height="46" fill="#089981"/>
<rect x="1235" y="474" width="5" height="31" fill="#089981"/>
<rect x="1244" y="469" width="1" height="23" fill="#089981"/>
<rect x="1242" y="473" width="5" height="2" fill="#089981"/>
<rect x="1250" y="459" width="1" height="16" fill="#089981"/>
<rect x="1248" y="473" width="5" height="1" fill="#089981"/>
<rect x="1257" y="434" width="1" height="40" fill="#089981"/>
<rect x="1255" y="436" width="5" height="38" fill="#089981"/>
<rect x="1263" y="407" width="1" height="33" fill="#089981"/>
<rect x="1261" y="412" width="5" height="25" fill="#089981"/>
<rect x="1270" y="409" width="1" height="26" fill="#f23645"/>
<rect x="1268" y="412" width="5" height="9" fill="#f23645"/>
<rect x="1276" y="411" width="1" height="18" fill="#f23645"/>
<rect x="1274" y="420" width="5" height="5" fill="#f23645"/>
<rect x="1283" y="421" width="1" height="24" fill="#f23645"/>
<rect x="1281" y="424" width="5" height="19" fill="#f23645"/>
<rect x="1289" y="436" width="1" height="32" fill="#f23645"/>
<rect x="1287" y="441" width="5" height="26" fill="#f23645"/>
<rect x="1295" y="451" width="1" height="22" fill="#f23645"/>
<rect x="1293" y="467" width="5" height="1" fill="#f23645"/>
<rect x="1302" y="456" width="1" height="17" fill="#089981"/>
<rect x="1300" y="462" width="5" height="7" fill="#089981"/>
<rect x="1308" y="453" width="1" height="38" fill="#f23645"/>
<rect x="1306" y="462" width="5" height="7" fill="#f23645"/>
<rect x="1315" y="463" width="1" height="30" fill="#f23645"/>
<rect x="1313" y="468" width="5" height="23" fill="#f23645"/>
<rect x="1321" y="466" width="1" height="25" fill="#089981"/>
<rect x="1319" y="483" width="5" height="8" fill="#089981"/>
<rect x="1328" y="473" width="1" height="15" fill="#089981"/>
<rect x="1326" y="482" width="5" height="3" fill="#089981"/>
<rect x="1334" y="479" width="1" height="26" fill="#f23645"/>
<rect x="1332" y="482" width="5" height="23" fill="#f23645"/>
<rect x="1341" y="488" width="1" height="22" fill="#f23645"/>
<rect x="1339" y="503" width="5" height="4" fill="#f23645"/>
<rect x="1347" y="476" width="1" height="39" fill="#089981"/>
<rect x="1345" y="477" width="5" height="30" fill="#089981"/>
<rect x="1354" y="464" width="1" height="25" fill="#f23645"/>
<rect x="1352" y="476" width="5" height="9" fill="#f23645"/>
<rect x="1360" y="472" width="1" height="23" fill="#089981"/>
<rect x="1358" y="481" width="5" height="4" fill="#089981"/>
<rect x="1367" y="460" width="1" height="24" fill="#089981"/>
<rect x="1365" y="470" width="5" height="12" fill="#089981"/>
<rect x="1373" y="464" width="1" height="15" fill="#f23645"/>
<rect x="1371" y="470" width="5" height="3" fill="#f23645"/>
<rect x="1380" y="467" width="1" height="28" fill="#f23645"/>
<rect x="1378" y="472" width="5" height="18" fill="#f23645"/>
<rect x="1386" y="488" width="1" height="13" fill="#f23645"/>
<rect x="1384" y="488" width="5" height="13" fill="#f23645"/>
<rect x="1393" y="477" width="1" height="25" fill="#089981"/>
<rect x="1391" y="485" width="5" height="16" fill="#089981"/>
<rect x="1399" y="465" width="1" height="34" fill="#f23645"/>
<rect x="1397" y="485" width="5" height="14" fill="#f23645"/>
<rect x="1405" y="492" width="1" height="24" fill="#f23645"/>
<rect x="1403" y="497" width="5" height="7" fill="#f23645"/>
<rect x="1412" y="453" width="1" height="52" fill="#089981"/>
<rect x="1410" y="455" width="5" height="50" fill="#089981"/>
<rect x="1418" y="453" width="1" height="14" fill="#f23645"/>
<rect x="1416" y="454" width="5" height="6" fill="#f23645"/>
<rect x="1425" y="419" width="1" height="50" fill="#089981"/>
<rect x="1423" y="424" width="5" height="36" fill="#089981"/>
<rect x="1431" y="414" width="1" height="19" fill="#f23645"/>
<rect x="1429" y="424" width="5" height="6" fill="#f23645"/>
<rect x="1438" y="381" width="1" height="51" fill="#089981"/>
<rect x="1436" y="382" width="5" height="48" fill="#089981"/>
<rect x="1444" y="366" width="1" height="24" fill="#089981"/>
<rect x="1442" y="367" width="5" height="16" fill="#089981"/>
<rect x="1451" y="364" width="1" height="21" fill="#089981"/>
<rect x="1449" y="367" width="5" height="1" fill="#089981"/>
<rect x="1457" y="352" width="1" height="19" fill="#089981"/>
<rect x="1455" y="360" width="5" height="8" fill="#089981"/>
<rect x="1464" y="354" width="1" height="14" fill="#f23645"/>
<rect x="1462" y="360" width="5" height="6" fill="#f23645"/>
<rect x="1470" y="364" width="1" height="19" fill="#f23645"/>
<rect x="1468" y="365" width="5" height="14" fill="#f23645"/>
<rect x="1477" y="371" width="1" height="19" fill="#f23645"/>
<rect x="1475" y="378" width="5" height="10" fill="#f23645"/>
<rect x="1483" y="385" width="1" height="19" fill="#f23645"/>
<rect x="1481" y="387" width="5" height="13" fill="#f23645"/>
<rect x="1490" y="388" width="1" height="13" fill="#089981"/>
<rect x="1488" y="398" width="5" height="3" fill="#089981"/>
<rect x="1496" y="384" width="1" height="27" fill="#089981"/>
<rect x="1494" y="388" width="5" height="10" fill="#089981"/>
<rect x="1502" y="379" width="1" height="10" fill="#089981"/>
<rect x="1500" y="384" width="5" height="5" fill="#089981"/>
<rect x="1509" y="377" width="1" height="15" fill="#f23645"/>
<rect x="1507" y="381" width="5" height="4" fill="#f23645"/>
<rect x="1515" y="375" width="1" height="23" fill="#f23645"/>
<rect x="1513" y="384" width="5" height="13" fill="#f23645"/>
<rect x="1522" y="379" width="1" height="19" fill="#089981"/>
<rect x="1520" y="388" width="5" height="9" fill="#089981"/>
<rect x="1528" y="369" width="1" height="23" fill="#089981"/>
<rect x="1526" y="370" width="5" height="19" fill="#089981"/>
<rect x="1535" y="336" width="1" height="36" fill="#089981"/>
<rect x="1533" y="337" width="5" height="35" fill="#089981"/>
<rect x="1541" y="335" width="1" height="25" fill="#f23645"/>
<rect x="1539" y="338" width="5" height="5" fill="#f23645"/>
<rect x="1548" y="329" width="1" height="43" fill="#f23645"/>
<rect x="1546" y="342" width="5" height="29" fill="#f23645"/>
<rect x="1554" y="358" width="1" height="14" fill="#089981"/>
<rect x="1552" y="368" width="5" height="3" fill="#089981"/>
<rect x="1561" y="349" width="1" height="21" fill="#089981"/>
<rect x="1559" y="353" width="5" height="16" fill="#089981"/>
<rect x="1567" y="345" width="1" height="13" fill="#089981"/>
<rect x="1565" y="350" width="5" height="4" fill="#089981"/>
<rect x="1574" y="334" width="1" height="18" fill="#089981"/>
<rect x="1572" y="343" width="5" height="9" fill="#089981"/>
<rect x="1580" y="342" width="1" height="19" fill="#f23645"/>
<rect x="1578" y="342" width="5" height="18" fill="#f23645"/>
<rect x="1587" y="316" width="1" height="43" fill="#089981"/>
<rect x="1585" y="329" width="5" height="30" fill="#089981"/>
<rect x="1593" y="326" width="1" height="18" fill="#f23645"/>
<rect x="1591" y="331" width="5" height="3" fill="#f23645"/>
<rect x="1599" y="331" width="1" height="34" fill="#f23645"/>
<rect x="1597" y="334" width="5" height="29" fill="#f23645"/>
<rect x="1606" y="345" width="1" height="19" fill="#089981"/>
<rect x="1604" y="347" width="5" height="17" fill="#089981"/>
<rect x="1612" y="341" width="1" height="14" fill="#f23645"/>
<rect x="1610" y="348" width="5" height="5" fill="#f23645"/>
<rect x="1619" y="320" width="1" height="34" fill="#089981"/>
<rect x="1617" y="323" width="5" height="31" fill="#089981"/>
<rect x="1625" y="317" width="1" height="11" fill="#f23645"/>
<rect x="1623" y="324" width="5" height="3" fill="#f23645"/>
<rect x="1632" y="320" width="1" height="34" fill="#f23645"/>
<rect x="1630" y="326" width="5" height="22" fill="#f23645"/>
<rect x="1638" y="337" width="1" height="13" fill="#089981"/>
<rect x="1636" y="342" width="5" height="7" fill="#089981"/>
<rect x="1645" y="342" width="1" height="1" fill="#089981"/>
<rect x="1643" y="342" width="5" height="1" fill="#089981"/>
<rect x="1651" y="308" width="1" height="35" fill="#089981"/>
<rect x="1649" y="327" width="5" height="16" fill="#089981"/>
<rect x="1658" y="326" width="1" height="16" fill="#f23645"/>
<rect x="1656" y="328" width="5" height="9" fill="#f23645"/>
<rect x="1664" y="320" width="1" height="18" fill="#089981"/>
<rect x="1662" y="326" width="5" height="12" fill="#089981"/>
<rect x="1671" y="315" width="1" height="14" fill="#089981"/>
<rect x="1669" y="318" width="5" height="9" fill="#089981"/>
<rect x="1677" y="315" width="1" height="3" fill="#f23645"/>
<rect x="1675" y="317" width="5" height="1" fill="#f23645"/>
<rect x="1684" y="292" width="1" height="26" fill="#089981"/>
<rect x="1682" y="302" width="5" height="16" fill="#089981"/>
<rect x="1690" y="277" width="1" height="28" fill="#089981"/>
<rect x="1688" y="286" width="5" height="17" fill="#089981"/>
</g>
<line x1="11" x2="1759" y1="779.5" y2="779.5" stroke="#2962ff" stroke-width="1" stroke-dasharray="1,2"/>
<g fill="#2962ff" shape-rendering="crispEdges">
<rect x="12" y="808" width="6" height="6"/>
<rect x="19" y="808" width="5" height="8"/>
<rect x="25" y="808" width="6" height="3"/>
<rect x="32" y="800" width="5" height="9"/>
<rect x="38" y="803" width="6" height="6"/>
<rect x="45" y="808" width="5" height="4"/>
<rect x="51" y="801" width="6" height="8"/>
<rect x="58" y="806" width="5" height="3"/>
<rect x="64" y="806" width="5" height="3"/>
<rect x="70" y="785" width="6" height="24"/>
<rect x="77" y="788" width="5" height="21"/>
<rect x="83" y="793" width="6" height="16"/>
<rect x="90" y="798" width="5" height="11"/>
<rect x="96" y="798" width="6" height="11"/>
<rect x="103" y="808" width="5" height="2"/>
<rect x="109" y="808" width="6" height="10"/>
<rect x="116" y="808" width="5" height="14"/>
<rect x="122" y="808" width="6" height="9"/>
<rect x="129" y="808" width="5" height="19"/>
<rect x="135" y="808" width="6" height="16"/>
<rect x="142" y="808" width="5" height="15"/>
<rect x="148" y="808" width="6" height="17"/>
<rect x="155" y="808" width="5" height="13"/>
<rect x="161" y="805" width="5" height="4"/>
<rect x="167" y="792" width="6" height="17"/>
<rect x="174" y="792" width="5" height="17"/>
<rect x="180" y="780" width="6" height="29"/>
<rect x="187" y="775" width="5" height="34"/>
<rect x="193" y="786" width="6" height="23"/>
<rect x="200" y="778" width="5" height="31"/>
<rect x="206" y="766" width="6" height="43"/>
<rect x="213" y="772" width="5" height="37"/>
<rect x="219" y="773" width="6" height="36"/>
<rect x="226" y="778" width="5" height="31"/>
<rect x="232" y="771" width="6" height="38"/>
<rect x="239" y="788" width="5" height="21"/>
<rect x="245" y="800" width="6" height="9"/>
<rect x="252" y="783" width="5" height="26"/>
<rect x="258" y="775" width="6" height="34"/>
<rect x="265" y="795" width="5" height="14"/>
<rect x="271" y="792" width="5" height="17"/>
<rect x="277" y="779" width="6" height="30"/>
<rect x="284" y="765" width="5" height="44"/>
<rect x="290" y="746" width="6" height="63"/>
<rect x="297" y="770" width="5" height="39"/>
<rect x="303" y="761" width="6" height="48"/>
<rect x="310" y="773" width="5" height="36"/>
<rect x="316" y="806" width="6" height="3"/>
<rect x="323" y="808" width="5" height="5"/>
<rect x="329" y="808" width="6" height="4"/>
<rect x="336" y="808" width="5" height="13"/>
<rect x="342" y="808" width="6" height="33"/>
<rect x="349" y="808" width="5" height="47"/>
<rect x="355" y="808" width="6" height="30"/>
<rect x="362" y="808" width="5" height="24"/>
<rect x="368" y="808" width="5" height="14"/>
<rect x="374" y="805" width="6" height="4"/>
<rect x="381" y="807" width="5" height="2"/>
<rect x="387" y="808" width="6" height="5"/>
<rect x="394" y="808" width="5" height="5"/>
<rect x="400" y="802" width="6" height="7"/>
<rect x="407" y="808" width="5" height="6"/>
<rect x="413" y="803" width="6" height="6"/>
<rect x="420" y="808" width="5" height="9"/>
<rect x="426" y="808" width="6" height="15"/>
<rect x="433" y="808" width="5" height="12"/>
<rect x="439" y="798" width="6" height="11"/>
<rect x="446" y="793" width="5" height="16"/>
<rect x="452" y="794" width="6" height="15"/>
<rect x="459" y="790" width="5" height="19"/>
<rect x="465" y="787" width="6" height="22"/>
<rect x="472" y="790" width="5" height="19"/>
<rect x="478" y="784" width="5" height="25"/>
<rect x="484" y="797" width="6" height="12"/>
<rect x="491" y="797" width="5" height="12"/>
<rect x="497" y="806" width="6" height="3"/>
<rect x="504" y="808" width="5" height="11"/>
<rect x="510" y="808" width="6" height="30"/>
<rect x="517" y="808" width="5" height="31"/>
<rect x="523" y="808" width="6" height="38"/>
<rect x="530" y="808" width="5" height="35"/>
<rect x="536" y="808" width="6" height="36"/>
<rect x="543" y="808" width="5" height="38"/>
<rect x="549" y="808" width="6" height="39"/>
<rect x="556" y="808" width="5" height="31"/>
<rect x="562" y="808" width="6" height="24"/>
<rect x="569" y="808" width="5" height="8"/>
<rect x="575" y="808" width="5" height="23"/>
<rect x="581" y="808" width="6" height="22"/>
<rect x="588" y="808" width="5" height="20"/>
<rect x="594" y="808" width="6" height="33"/>
<rect x="601" y="808" width="5" height="24"/>
<rect x="607" y="808" width="6" height="20"/>
<rect x="614" y="808" width="5" height="30"/>
<rect x="620" y="808" width="6" height="28"/>
<rect x="627" y="808" width="5" height="20"/>
<rect x="633" y="808" width="6" height="5"/>
<rect x="640" y="801" width="5" height="8"/>
<rect x="646" y="802" width="6" height="7"/>
<rect x="653" y="795" width="5" height="14"/>
<rect x="659" y="790" width="6" height="19"/>
<rect x="666" y="795" width="5" height="14"/>
<rect x="672" y="789" width="6" height="20"/>
<rect x="679" y="799" width="5" height="10"/>
<rect x="685" y="806" width="5" height="3"/>
<rect x="691" y="798" width="6" height="11"/>
<rect x="698" y="808" width="5" height="2"/>
<rect x="704" y="808" width="6" height="12"/>
<rect x="711" y="808" width="5" height="1"/>
<rect x="717" y="807" width="6" height="2"/>
<rect x="724" y="808" width="5" height="3"/>
<rect x="730" y="801" width="6" height="8"/>
<rect x="737" y="808" width="5" height="9"/>
<rect x="743" y="808" width="6" height="18"/>
<rect x="750" y="808" width="5" height="17"/>
<rect x="756" y="805" width="6" height="4"/>
<rect x="763" y="808" width="5" height="2"/>
<rect x="769" y="808" width="6" height="7"/>
<rect x="776" y="808" width="5" height="10"/>
<rect x="782" y="808" width="5" height="6"/>
<rect x="788" y="808" width="6" height="22"/>
<rect x="795" y="805" width="5" height="4"/>
<rect x="801" y="801" width="6" height="8"/>
<rect x="808" y="808" width="5" height="7"/>
<rect x="814" y="808" width="6" height="19"/>
<rect x="821" y="808" width="5" height="15"/>
<rect x="827" y="808" width="6" height="14"/>
<rect x="834" y="808" width="5" height="12"/>
<rect x="840" y="808" width="6" height="34"/>
<rect x="847" y="808" width="5" height="39"/>
<rect x="853" y="808" width="6" height="40"/>
<rect x="860" y="808" width="5" height="38"/>
<rect x="866" y="808" width="6" height="40"/>
<rect x="873" y="808" width="5" height="43"/>
<rect x="879" y="808" width="5" height="34"/>
<rect x="885" y="808" width="6" height="47"/>
<rect x="892" y="808" width="5" height="47"/>
<rect x="898" y="808" width="6" height="27"/>
<rect x="905" y="808" width="5" height="14"/>
<rect x="911" y="808" width="6" height="22"/>
<rect x="918" y="808" width="5" height="12"/>
<rect x="924" y="808" width="6" height="4"/>
<rect x="931" y="808" width="5" height="4"/>
<rect x="937" y="808" width="6" height="10"/>
<rect x="944" y="797" width="5" height="12"/>
<rect x="950" y="784" width="6" height="25"/>
<rect x="957" y="781" width="5" height="28"/>
<rect x="963" y="779" width="6" height="30"/>
<rect x="970" y="777" width="5" height="32"/>
<rect x="976" y="785" width="6" height="24"/>
<rect x="983" y="777" width="5" height="32"/>
<rect x="989" y="782" width="5" height="27"/>
<rect x="995" y="773" width="6" height="36"/>
<rect x="1002" y="779" width="5" height="30"/>
<rect x="1008" y="791" width="6" height="18"/>
<rect x="1015" y="797" width="5" height="12"/>
<rect x="1021" y="794" width="6" height="15"/>
<rect x="1028" y="799" width="5" height="10"/>
<rect x="1034" y="803" width="6" height="6"/>
<rect x="1041" y="808" width="5" height="15"/>
<rect x="1047" y="808" width="6" height="8"/>
<rect x="1054" y="808" width="5" height="20"/>
<rect x="1060" y="808" width="6" height="28"/>
<rect x="1067" y="808" width="5" height="21"/>
<rect x="1073" y="808" width="6" height="19"/>
<rect x="1080" y="808" width="5" height="21"/>
<rect x="1086" y="808" width="5" height="21"/>
<rect x="1092" y="808" width="6" height="19"/>
<rect x="1099" y="808" width="5" height="19"/>
<rect x="1105" y="808" width="6" height="24"/>
<rect x="1112" y="808" width="5" height="25"/>
<rect x="1118" y="808" width="6" height="13"/>
<rect x="1125" y="808" width="5" height="20"/>
<rect x="1131" y="808" width="6" height="24"/>
<rect x="1138" y="808" width="5" height="20"/>
<rect x="1144" y="808" width="6" height="15"/>
<rect x="1151" y="808" width="5" height="11"/>
<rect x="1157" y="807" width="6" height="2"/>
<rect x="1164" y="808" width="5" height="6"/>
<rect x="1170" y="808" width="6" height="1"/>
<rect x="1177" y="808" width="5" height="24"/>
<rect x="1183" y="808" width="6" height="18"/>
<rect x="1190" y="808" width="5" height="14"/>
<rect x="1196" y="808" width="5" height="27"/>
<rect x="1202" y="808" width="6" height="18"/>
<rect x="1209" y="808" width="5" height="23"/>
<rect x="1215" y="808" width="6" height="40"/>
<rect x="1222" y="808" width="5" height="40"/>
<rect x="1228" y="808" width="6" height="34"/>
<rect x="1235" y="808" width="5" height="4"/>
<rect x="1241" y="808" width="6" height="7"/>
<rect x="1248" y="808" width="5" height="8"/>
<rect x="1254" y="791" width="6" height="18"/>
<rect x="1261" y="782" width="5" height="27"/>
<rect x="1267" y="786" width="6" height="23"/>
<rect x="1274" y="773" width="5" height="36"/>
<rect x="1280" y="771" width="6" height="38"/>
<rect x="1287" y="788" width="5" height="21"/>
<rect x="1293" y="805" width="5" height="4"/>
<rect x="1299" y="802" width="6" height="7"/>
<rect x="1306" y="805" width="5" height="4"/>
<rect x="1312" y="808" width="6" height="28"/>
<rect x="1319" y="808" width="5" height="37"/>
<rect x="1325" y="808" width="6" height="32"/>
<rect x="1332" y="808" width="5" height="41"/>
<rect x="1338" y="808" width="6" height="34"/>
<rect x="1345" y="808" width="5" height="7"/>
<rect x="1351" y="808" width="6" height="9"/>
<rect x="1358" y="808" width="5" height="11"/>
<rect x="1364" y="808" width="6" height="2"/>
<rect x="1371" y="799" width="5" height="10"/>
<rect x="1377" y="808" width="6" height="4"/>
<rect x="1384" y="808" width="5" height="10"/>
<rect x="1390" y="798" width="6" height="11"/>
<rect x="1397" y="804" width="5" height="5"/>
<rect x="1403" y="808" width="5" height="15"/>
<rect x="1409" y="793" width="6" height="16"/>
<rect x="1416" y="797" width="5" height="12"/>
<rect x="1422" y="784" width="6" height="25"/>
<rect x="1429" y="786" width="5" height="23"/>
<rect x="1435" y="752" width="6" height="57"/>
<rect x="1442" y="738" width="5" height="71"/>
<rect x="1448" y="746" width="6" height="63"/>
<rect x="1455" y="735" width="5" height="74"/>
<rect x="1461" y="735" width="6" height="74"/>
<rect x="1468" y="769" width="5" height="40"/>
<rect x="1474" y="771" width="6" height="38"/>
<rect x="1481" y="796" width="5" height="13"/>
<rect x="1487" y="792" width="6" height="17"/>
<rect x="1494" y="808" width="5" height="4"/>
<rect x="1500" y="808" width="5" height="9"/>
<rect x="1506" y="808" width="6" height="9"/>
<rect x="1513" y="808" width="5" height="19"/>
<rect x="1519" y="808" width="6" height="12"/>
<rect x="1526" y="804" width="5" height="5"/>
<rect x="1532" y="783" width="6" height="26"/>
<rect x="1539" y="780" width="5" height="29"/>
<rect x="1545" y="794" width="6" height="15"/>
<rect x="1552" y="798" width="5" height="11"/>
<rect x="1558" y="793" width="6" height="16"/>
<rect x="1565" y="792" width="5" height="17"/>
<rect x="1571" y="781" width="6" height="28"/>
<rect x="1578" y="794" width="5" height="15"/>
<rect x="1584" y="788" width="6" height="21"/>
<rect x="1591" y="806" width="5" height="3"/>
<rect x="1597" y="808" width="5" height="11"/>
<rect x="1603" y="797" width="6" height="12"/>
<rect x="1610" y="800" width="5" height="9"/>
<rect x="1616" y="793" width="6" height="16"/>
<rect x="1623" y="796" width="5" height="13"/>
<rect x="1629" y="808" width="6" height="3"/>
<rect x="1636" y="800" width="5" height="9"/>
<rect x="1642" y="808" width="6" height="7"/>
<rect x="1649" y="805" width="5" height="4"/>
<rect x="1655" y="795" width="6" height="14"/>
<rect x="1662" y="798" width="5" height="11"/>
<rect x="1668" y="792" width="6" height="17"/>
<rect x="1675" y="805" width="5" height="4"/>
<rect x="1681" y="797" width="6" height="12"/>
<rect x="1688" y="779" width="5" height="30"/>
</g>
<line x1="10" x2="1753" y1="808.5" y2="808.5" stroke="#787b86" stroke-width="1" stroke-dasharray="5,6"/>
<g shape-rendering="crispEdges">
<rect x="11" y="561" width="1812" height="1" fill="#e0e3eb"/>
<rect x="11" y="719" width="1812" height="1" fill="#e0e3eb"/>
</g>
<rect x="10" y="27" width="1813.1" height="867.5" fill="none" stroke="#eaecf3" stroke-width="1.8"/>
<text x="10.0" y="18.9" font-size="12.3" fill="#131722" text-anchor="start" font-weight="normal" textLength="341.2" lengthAdjust="spacingAndGlyphs">cborjon published on TradingView.com, Jan 04, 2023 15:03 UTC</text>
<text x="18.3" y="45.9" font-size="13" fill="#131722" text-anchor="start" font-weight="normal" textLength="181.2" lengthAdjust="spacingAndGlyphs">CFDs on Gold (US$ / OZ), 1D, TVC</text>
<text x="207.7" y="45.9" font-size="13" fill="#131722" text-anchor="start" font-weight="normal" textLength="8.0" lengthAdjust="spacingAndGlyphs">O</text>
<text x="216.6" y="45.9" font-size="13" fill="#089981" text-anchor="start" font-weight="normal" textLength="41.2" lengthAdjust="spacingAndGlyphs">1839.60</text>
<text x="265.2" y="45.9" font-size="13" fill="#131722" text-anchor="start" font-weight="normal" textLength="7.4" lengthAdjust="spacingAndGlyphs">H</text>
<text x="273.4" y="45.9" font-size="13" fill="#089981" text-anchor="start" font-weight="normal" textLength="41.0" lengthAdjust="spacingAndGlyphs">1865.15</text>
<text x="322.6" y="45.9" font-size="13" fill="#131722" text-anchor="start" font-weight="normal" textLength="5.2" lengthAdjust="spacingAndGlyphs">L</text>
<text x="329.1" y="45.9" font-size="13" fill="#089981" text-anchor="start" font-weight="normal" textLength="40.7" lengthAdjust="spacingAndGlyphs">1836.29</text>
<text x="378.0" y="45.9" font-size="13" fill="#131722" text-anchor="start" font-weight="normal" textLength="6.6" lengthAdjust="spacingAndGlyphs">C</text>
<text x="385.4" y="45.9" font-size="13" fill="#089981" text-anchor="start" font-weight="normal" textLength="40.6" lengthAdjust="spacingAndGlyphs">1856.01</text>
<text x="434.6" y="45.9" font-size="13" fill="#089981" text-anchor="start" font-weight="normal" textLength="84.0" lengthAdjust="spacingAndGlyphs">+17.01 (+0.92%)</text>
<text x="1769.5" y="44.8" font-size="12" fill="#131722" text-anchor="start" font-weight="normal" textLength="20.4" lengthAdjust="spacingAndGlyphs">USD</text>
<text x="1769.3" y="76.0" font-size="12" fill="#131722" text-anchor="start" font-weight="normal" textLength="42.0" lengthAdjust="spacingAndGlyphs">2080.00</text>
<text x="1769.3" y="114.3" font-size="12" fill="#131722" text-anchor="start" font-weight="normal" textLength="42.0" lengthAdjust="spacingAndGlyphs">2040.00</text>
<text x="1769.3" y="191.1" font-size="12" fill="#131722" text-anchor="start" font-weight="normal" textLength="42.0" lengthAdjust="spacingAndGlyphs">1960.00</text>
<text x="1769.3" y="229.4" font-size="12" fill="#131722" text-anchor="start" font-weight="normal" textLength="42.0" lengthAdjust="spacingAndGlyphs">1920.00</text>
<text x="1769.3" y="306.2" font-size="12" fill="#131722" text-anchor="start" font-weight="normal" textLength="42.0" lengthAdjust="spacingAndGlyphs">1840.00</text>
<text x="1769.3" y="344.5" font-size="12" fill="#131722" text-anchor="start" font-weight="normal" textLength="42.0" lengthAdjust="spacingAndGlyphs">1800.00</text>
<text x="1769.3" y="421.3" font-size="12" fill="#131722" text-anchor="start" font-weight="normal" textLength="42.0" lengthAdjust="spacingAndGlyphs">1720.00</text>
<text x="1769.3" y="498.0" font-size="12" fill="#131722" text-anchor="start" font-weight="normal" textLength="42.0" lengthAdjust="spacingAndGlyphs">1640.00</text>
<text x="1769.3" y="536.4" font-size="12" fill="#131722" text-anchor="start" font-weight="normal" textLength="42.0" lengthAdjust="spacingAndGlyphs">1600.00</text>
<text x="1769.3" y="586.6" font-size="12" fill="#131722" text-anchor="start" font-weight="normal" textLength="29.5" lengthAdjust="spacingAndGlyphs">80.00</text>
<text x="1769.3" y="630.0" font-size="12" fill="#131722" text-anchor="start" font-weight="normal" textLength="29.5" lengthAdjust="spacingAndGlyphs">60.00</text>
<text x="1769.3" y="674.0" font-size="12" fill="#131722" text-anchor="start" font-weight="normal" textLength="29.5" lengthAdjust="spacingAndGlyphs">40.00</text>
<text x="1769.3" y="718.3" font-size="12" fill="#131722" text-anchor="start" font-weight="normal" textLength="29.5" lengthAdjust="spacingAndGlyphs">20.00</text>
<text x="1769.3" y="746.4" font-size="12" fill="#131722" text-anchor="start" font-weight="normal" textLength="23.0" lengthAdjust="spacingAndGlyphs">8.00</text>
<text x="1769.3" y="778.7" font-size="12" fill="#131722" text-anchor="start" font-weight="normal" textLength="23.0" lengthAdjust="spacingAndGlyphs">4.00</text>
<text x="1769.3" y="812.6" font-size="12" fill="#131722" text-anchor="start" font-weight="normal" textLength="23.0" lengthAdjust="spacingAndGlyphs">0.00</text>
<text x="1769.3" y="845.7" font-size="12" fill="#131722" text-anchor="start" font-weight="normal" textLength="30.0" lengthAdjust="spacingAndGlyphs">−4.00</text>
<rect x="1759" y="68.0" width="59" height="17.0" rx="2" fill="#000000"/>
<rect x="1759" y="68.0" width="4" height="17.0" fill="#000000"/>
<text x="1769.3" y="80.8" font-size="12" fill="#ffffff" text-anchor="start" font-weight="bold" textLength="42.0" lengthAdjust="spacingAndGlyphs">2075.14</text>
<rect x="1759" y="139.8" width="59" height="17.0" rx="2" fill="#000000"/>
<rect x="1759" y="139.8" width="4" height="17.0" fill="#000000"/>
<text x="1769.3" y="152.6" font-size="12" fill="#ffffff" text-anchor="start" font-weight="bold" textLength="42.0" lengthAdjust="spacingAndGlyphs">2000.00</text>
<rect x="1759" y="243.9" width="59" height="16.8" rx="2" fill="#000000"/>
<rect x="1759" y="243.9" width="4" height="16.8" fill="#000000"/>
<text x="1769.3" y="256.6" font-size="12" fill="#ffffff" text-anchor="start" font-weight="bold" textLength="42.0" lengthAdjust="spacingAndGlyphs">1879.45</text>
<rect x="1759" y="260.7" width="59" height="17.2" rx="2" fill="#008000"/>
<rect x="1759" y="260.7" width="4" height="17.2" fill="#008000"/>
<text x="1769.3" y="273.6" font-size="12" fill="#ffffff" text-anchor="start" font-weight="bold" textLength="42.0" lengthAdjust="spacingAndGlyphs">1865.15</text>
<rect x="1759" y="278.1" width="59" height="16.8" rx="2" fill="#089981"/>
<rect x="1759" y="278.1" width="4" height="16.8" fill="#089981"/>
<text x="1769.3" y="290.8" font-size="12" fill="#ffffff" text-anchor="start" font-weight="bold" textLength="42.0" lengthAdjust="spacingAndGlyphs">1856.01</text>
<rect x="1759" y="308.9" width="59" height="17.0" rx="2" fill="#ff0000"/>
<rect x="1759" y="308.9" width="4" height="17.0" fill="#ff0000"/>
<text x="1769.3" y="321.7" font-size="12" fill="#ffffff" text-anchor="start" font-weight="bold" textLength="42.0" lengthAdjust="spacingAndGlyphs">1823.53</text>
<rect x="1759" y="325.8" width="59" height="17.0" rx="2" fill="#ff0000"/>
<rect x="1759" y="325.8" width="4" height="17.0" fill="#ff0000"/>
<text x="1769.3" y="338.6" font-size="12" fill="#ffffff" text-anchor="start" font-weight="bold" textLength="42.0" lengthAdjust="spacingAndGlyphs">1807.06</text>
<rect x="1759" y="358.1" width="59" height="17.0" rx="2" fill="#ff8000"/>
<rect x="1759" y="358.1" width="4" height="17.0" fill="#ff8000"/>
<text x="1769.3" y="370.9" font-size="12" fill="#ffffff" text-anchor="start" font-weight="bold" textLength="42.0" lengthAdjust="spacingAndGlyphs">1772.91</text>
<rect x="1759" y="375.0" width="59" height="17.0" rx="2" fill="#0000ff"/>
<rect x="1759" y="375.0" width="4" height="17.0" fill="#0000ff"/>
<text x="1769.3" y="387.8" font-size="12" fill="#ffffff" text-anchor="start" font-weight="bold" textLength="42.0" lengthAdjust="spacingAndGlyphs">1768.67</text>
<rect x="1759" y="392.0" width="59" height="17.0" rx="2" fill="#673ab7"/>
<rect x="1759" y="392.0" width="4" height="17.0" fill="#673ab7"/>
<text x="1769.3" y="404.8" font-size="12" fill="#ffffff" text-anchor="start" font-weight="bold" textLength="42.0" lengthAdjust="spacingAndGlyphs">1757.37</text>
<rect x="1759" y="448.8" width="59" height="17.0" rx="2" fill="#ff40ff"/>
<rect x="1759" y="448.8" width="4" height="17.0" fill="#ff40ff"/>
<text x="1769.3" y="461.6" font-size="12" fill="#ffffff" text-anchor="start" font-weight="bold" textLength="42.0" lengthAdjust="spacingAndGlyphs">1678.01</text>
<rect x="1759" y="508.8" width="59" height="17.0" rx="2" fill="#ff40ff"/>
<rect x="1759" y="508.8" width="4" height="17.0" fill="#ff40ff"/>
<text x="1769.3" y="521.6" font-size="12" fill="#ffffff" text-anchor="start" font-weight="bold" textLength="42.0" lengthAdjust="spacingAndGlyphs">1614.92</text>
<rect x="1759" y="600.2" width="46" height="16.8" rx="2" fill="#7e57c2"/>
<rect x="1759" y="600.2" width="4" height="16.8" fill="#7e57c2"/>
<text x="1769.3" y="612.9" font-size="12" fill="#ffffff" text-anchor="start" font-weight="bold" textLength="29.5" lengthAdjust="spacingAndGlyphs">68.31</text>
<rect x="1759" y="770.8" width="40" height="17.0" rx="2" fill="#2962ff"/>
<rect x="1759" y="770.8" width="4" height="17.0" fill="#2962ff"/>
<text x="1769.3" y="783.6" font-size="12" fill="#ffffff" text-anchor="start" font-weight="bold" textLength="23.4" lengthAdjust="spacingAndGlyphs">3.55</text>
<rect x="1717" y="278.1" width="41" height="16.8" rx="2" fill="#089981"/>
<text x="1722.3" y="290.8" font-size="12" fill="#ffffff" text-anchor="start" font-weight="normal" textLength="30.0" lengthAdjust="spacingAndGlyphs">GOLD</text>
<text x="1752.3" y="88.6" font-size="10.6" fill="#131722" text-anchor="end" font-weight="normal">ATH</text>
<text x="1706.1" y="469.8" font-size="11" fill="#ff40ff" text-anchor="start" font-weight="normal" textLength="46.0" lengthAdjust="spacingAndGlyphs">2021 Low</text>
<text x="1706.1" y="529.8" font-size="11" fill="#ff40ff" text-anchor="start" font-weight="normal" textLength="46.0" lengthAdjust="spacingAndGlyphs">2022 Low</text>
<text x="131.5" y="884.8" font-size="12" fill="#131722" text-anchor="middle" font-weight="normal">Feb</text>
<text x="261.5" y="884.8" font-size="12" fill="#131722" text-anchor="middle" font-weight="normal">Mar</text>
<text x="409.5" y="884.8" font-size="12" fill="#131722" text-anchor="middle" font-weight="normal">Apr</text>
<text x="545.5" y="884.8" font-size="12" fill="#131722" text-anchor="middle" font-weight="normal">May</text>
<text x="687.5" y="884.8" font-size="12" fill="#131722" text-anchor="middle" font-weight="normal">Jun</text>
<text x="830.5" y="884.8" font-size="12" fill="#131722" text-anchor="middle" font-weight="normal">Jul</text>
<text x="966.5" y="884.8" font-size="12" fill="#131722" text-anchor="middle" font-weight="normal">Aug</text>
<text x="1114.5" y="884.8" font-size="12" fill="#131722" text-anchor="middle" font-weight="normal">Sep</text>
<text x="1257.5" y="884.8" font-size="12" fill="#131722" text-anchor="middle" font-weight="normal">Oct</text>
<text x="1393.5" y="884.8" font-size="12" fill="#131722" text-anchor="middle" font-weight="normal">Nov</text>
<text x="1535.5" y="884.8" font-size="12" fill="#131722" text-anchor="middle" font-weight="normal">Dec</text>
<text x="1677.5" y="884.8" font-size="12" fill="#131722" text-anchor="middle" font-weight="normal">2023</text>
<circle cx="1690.5" cy="548.3" r="9.7" fill="#fff" stroke="#9c27b0" stroke-width="1.6"/>
<path d="M1693.9 543 L1686.1 548.8 L1690.2 548.8 L1687.3 554 L1694.8 548.1 L1691 548.1 Z" fill="#9c27b0"/>
<g fill="#131722"><path d="M10.07 907.04 H17.77 V916.86 H14 V910.8 H10.07 Z"/><circle cx="21.04" cy="909" r="1.9"/><path d="M24.6 907.04 H29.55 L25.95 916.86 H21.2 Z"/></g>
<text x="32.9" y="916.9" font-size="13" fill="#131722" text-anchor="start" font-weight="normal" textLength="70.5" lengthAdjust="spacingAndGlyphs">TradingView</text>
</svg></body></html>
